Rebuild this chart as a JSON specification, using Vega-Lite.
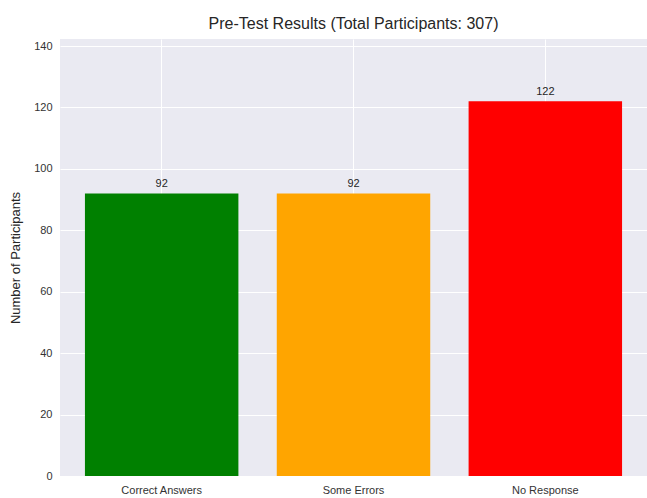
{
  "$schema": "https://vega.github.io/schema/vega-lite/v6.json",
  "width": 587,
  "height": 437,
  "autosize": {"type": "none"},
  "padding": {"left": 60, "top": 39, "right": 0, "bottom": 22},
  "background": "white",
  "title": {
    "text": "Pre-Test Results (Total Participants: 307)",
    "fontSize": 16,
    "font": "Liberation Sans",
    "fontWeight": "normal",
    "color": "#262626",
    "offset": 7
  },
  "config": {
    "view": {"fill": "#EAEAF2", "stroke": null},
    "font": "Liberation Sans",
    "axis": {
      "gridColor": "white",
      "gridWidth": 1,
      "gridOpacity": 1,
      "domain": false,
      "ticks": false,
      "labelFont": "Liberation Sans",
      "labelFontSize": 11,
      "labelColor": "#333333",
      "titleFont": "Liberation Sans",
      "titleFontSize": 13,
      "titleFontWeight": "normal",
      "titleColor": "#262626"
    }
  },
  "data": {
    "values": [
      {"category": "Correct Answers", "count": 92},
      {"category": "Some Errors", "count": 92},
      {"category": "No Response", "count": 122}
    ]
  },
  "encoding": {
    "x": {
      "field": "category",
      "type": "nominal",
      "sort": null,
      "scale": {"paddingInner": 0.2, "paddingOuter": 0.13},
      "axis": {"title": null, "labelAngle": 0, "labelPadding": 8, "grid": true, "bandPosition": 0.5}
    },
    "y": {
      "field": "count",
      "type": "quantitative",
      "scale": {"domain": [0, 142.3], "nice": false},
      "axis": {"title": "Number of Participants", "values": [0, 20, 40, 60, 80, 100, 120, 140], "labelPadding": 8, "titlePadding": 11, "grid": true}
    }
  },
  "layer": [
    {
      "mark": {"type": "bar"},
      "encoding": {
        "color": {
          "field": "category",
          "type": "nominal",
          "scale": {
            "domain": ["Correct Answers", "Some Errors", "No Response"],
            "range": ["#008000", "#FFA500", "#FF0000"]
          },
          "legend": null
        }
      }
    },
    {
      "mark": {"type": "text", "baseline": "bottom", "dy": -4, "fontSize": 11, "color": "#262626", "font": "Liberation Sans"},
      "encoding": {"text": {"field": "count", "type": "quantitative"}}
    }
  ]
}
